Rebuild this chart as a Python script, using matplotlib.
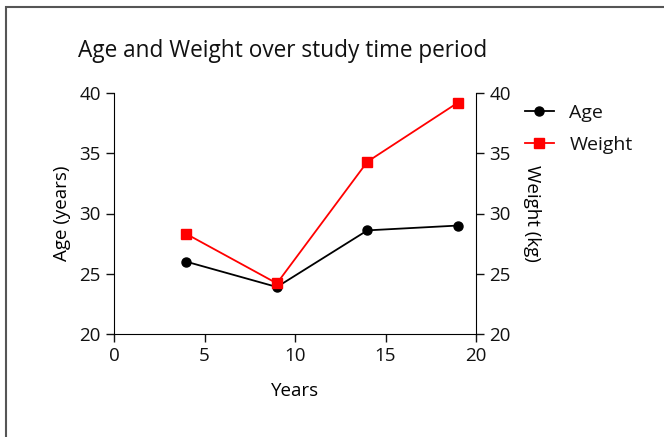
import matplotlib.pyplot as plt
from matplotlib.patches import Rectangle

# data
years = [4, 9, 14, 19]
age = [26.0, 23.9, 28.6, 29.0]
weight = [28.3, 24.2, 34.3, 39.2]

plt.rcParams['font.family'] = ['Open Sans', 'DejaVu Sans']
plt.rcParams['font.size'] = 13.5
plt.rcParams['text.color'] = '#111111'

fig = plt.figure(figsize=(6.64, 4.37), dpi=100)
ax = fig.add_axes([114 / 664, 1 - 334 / 437, 362 / 664, 241 / 437])
ax2 = ax.twinx()

l1, = ax.plot(years, age, color='black', marker='o', ms=6.5, lw=1.3, label='Age')
l2, = ax2.plot(years, weight, color='#ff0000', marker='s', ms=7.5, lw=1.3, label='Weight')

for a in (ax, ax2):
    a.set_ylim(20, 40)
    a.set_yticks([20, 25, 30, 35, 40])
    a.spines['top'].set_visible(False)
    a.tick_params(direction='out', length=6, width=1, colors='#111111', labelsize=13.5)
ax.set_xlim(0, 20)
ax.set_xticks([0, 5, 10, 15, 20])
ax.spines['right'].set_visible(False)
ax2.spines['left'].set_visible(False)
ax2.spines['bottom'].set_visible(False)

ax.set_xlabel('Years', labelpad=12)
ax.set_ylabel('Age (years)', labelpad=6)
ax2.set_ylabel('Weight (kg)', rotation=270, labelpad=22)
ax.set_title('Age and Weight over study time period', fontsize=16.3, pad=26, x=0.467)

fig.legend(handles=[l1, l2], loc='upper left', bbox_to_anchor=(507 / 664, 1 - 86 / 437),
           frameon=False, fontsize=14, handlelength=1.5, handletextpad=0.8, labelspacing=0.75)

# outer frame, clipped at right and bottom like the reference
fig.patches.append(Rectangle((6 / 664, -0.1), 1.2, 1 - 7 / 437 + 0.1, transform=fig.transFigure,
                             fill=False, edgecolor='#555555', lw=1.5))

fig.savefig('out.png', dpi=100)
